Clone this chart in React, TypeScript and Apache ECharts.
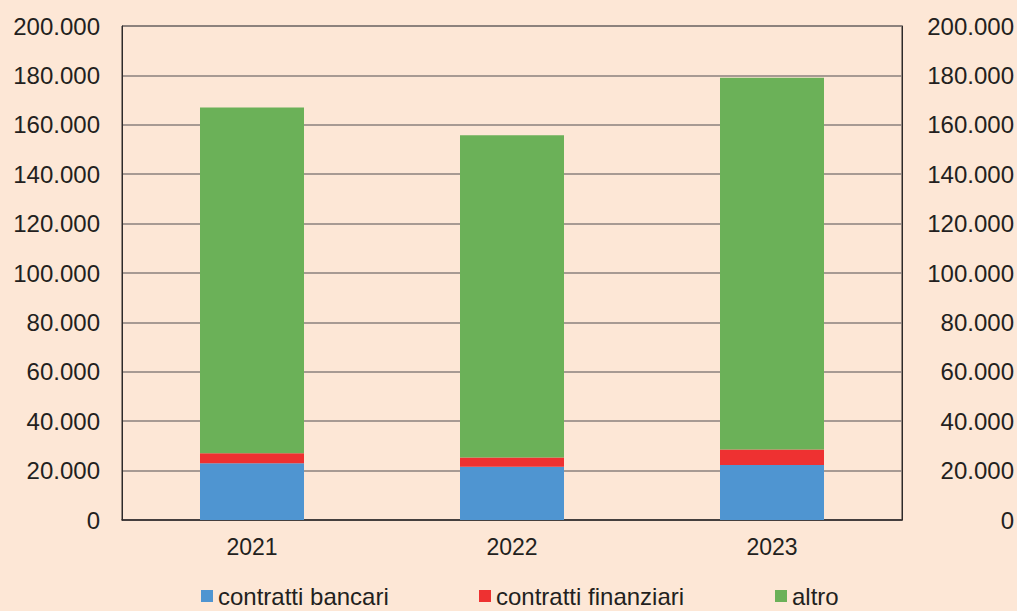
import React, { useEffect, useRef } from "react";
import * as echarts from "echarts";

const categories = ["2021", "2022", "2023"];
const bancari = [23000, 21600, 22300];
const finanziari = [4000, 3700, 6200];
const altro = [140000, 130500, 150500];
const seriesNames = ["contratti bancari", "contratti finanziari", "altro"];

const fmt = (v: number) => String(Math.round(v)).replace(/\B(?=(\d{3})+(?!\d))/g, ".");

export default function App() {
  const ref = useRef<HTMLDivElement>(null);
  useEffect(() => {
    if (!ref.current) return;
    const chart = echarts.init(ref.current, null, { renderer: "svg" });
    const textColor = "#231f20";
    const font = "Liberation Sans, Arial, Helvetica, sans-serif";
    const legendBase = {
      top: 584,
      padding: 0,
      itemWidth: 12,
      itemHeight: 12,
      icon: "rect",
      textStyle: { color: textColor, fontSize: 24, lineHeight: 24, fontFamily: font },
      selectedMode: false,
    };
    chart.setOption({
      animation: false,
      backgroundColor: "#fde7d6",
      textStyle: { fontFamily: font },
      grid: {
        left: 122,
        right: 114,
        top: 26,
        bottom: 91,
        show: true,
        borderColor: "#2e2a2a",
        borderWidth: 1,
        backgroundColor: "transparent",
      },
      legend: [
        { ...legendBase, left: 201, data: [seriesNames[0]] },
        { ...legendBase, left: 479, data: [seriesNames[1]] },
        { ...legendBase, left: 775, data: [seriesNames[2]] },
      ],
      xAxis: {
        type: "category",
        data: categories,
        axisLine: { show: true, lineStyle: { color: "#2e2a2a", width: 1.5 } },
        axisTick: { show: false },
        axisLabel: { color: textColor, fontSize: 23, margin: 15, fontFamily: font },
      },
      yAxis: [
        {
          type: "value",
          min: 0,
          max: 200000,
          interval: 20000,
          axisLine: { show: true, lineStyle: { color: "#2e2a2a" } },
          axisTick: { show: false },
          splitLine: { show: true, lineStyle: { color: "#8a817c", width: 1.5 } },
          axisLabel: { color: textColor, fontSize: 24, margin: 22, formatter: fmt, fontFamily: font },
        },
        {
          type: "value",
          position: "right",
          min: 0,
          max: 200000,
          interval: 20000,
          axisLine: { show: true, lineStyle: { color: "#2e2a2a" } },
          axisTick: { show: false },
          splitLine: { show: false },
          axisLabel: {
            color: textColor,
            fontSize: 24,
            margin: 112,
            align: "right",
            formatter: fmt,
            fontFamily: font,
          },
        },
      ],
      series: [
        {
          name: seriesNames[0],
          type: "bar",
          stack: "tot",
          barWidth: "40%",
          data: bancari,
          itemStyle: { color: "#4f95d1" },
        },
        {
          name: seriesNames[1],
          type: "bar",
          stack: "tot",
          barWidth: "40%",
          data: finanziari,
          itemStyle: { color: "#ee3131" },
        },
        {
          name: seriesNames[2],
          type: "bar",
          stack: "tot",
          barWidth: "40%",
          data: altro,
          itemStyle: { color: "#6bb158" },
        },
      ],
    });
    return () => chart.dispose();
  }, []);
  return (
    <div
      ref={ref}
      style={{ position: "fixed", left: 0, top: 0, width: 1017, height: 611 }}
    />
  );
}
